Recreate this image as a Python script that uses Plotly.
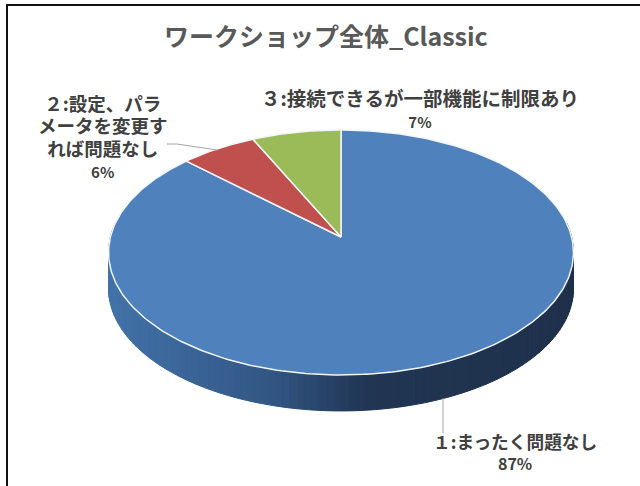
import numpy as np
import plotly.graph_objects as go

title = "ワークショップ全体_Classic"
categories = ["１:まったく問題なし", "２:設定、パラ<br>メータを変更す<br>れば問題なし", "３:接続できるが一部機能に制限あり"]
values = [87, 6, 7]
percent_labels = ["87%", "6%", "7%"]
colors = ["#4f81bd", "#c0504d", "#9bbb59"]

# Projective view of the pie disc (axes run in page pixels)
CX, CY, A, B, K, DEPTH = 341.0, 237.0, 230.6, 120.5, 0.1265, 36.0


def project(theta):
    x, y = np.sin(theta), np.cos(theta)
    d = 1 + K * y
    return CX + A * x / d, CY - B * y / d


def lerp_colour(t):
    stops = [(0.0, (66, 114, 168)), (0.35, (50, 86, 132)), (0.55, (33, 54, 84)), (1.0, (30, 48, 74))]
    for (t0, c0), (t1, c1) in zip(stops, stops[1:]):
        if t <= t1:
            f = (t - t0) / (t1 - t0)
            return "rgb(%d,%d,%d)" % tuple(round(a + (b - a) * f) for a, b in zip(c0, c1))
    return "rgb(30,48,74)"


fig = go.Figure()

# Side wall, drawn as thin vertical strips for the gradient
edges = np.linspace(np.radians(82), np.radians(278), 121)
for a0, a1 in zip(edges[:-1], edges[1:]):
    x0, y0 = project(a0)
    x1, y1 = project(a1)
    mid = (x0 + x1) / 2
    t = (mid - (CX - 232.5)) / 465.0
    c = lerp_colour(t)
    fig.add_trace(go.Scatter(
        x=[x0, x1, x1, x0, x0], y=[y0, y1, y1 + DEPTH, y0 + DEPTH, y0],
        mode="lines", fill="toself", fillcolor=c, line=dict(color=c, width=1),
        hoverinfo="skip", showlegend=False))

# Top face: one wedge per value, clockwise from twelve o'clock
total = sum(values)
start = 0.0
for name, v, col in zip(categories, values, colors):
    sweep = 2 * np.pi * v / total
    th = np.linspace(start, start + sweep, max(8, int(v * 4)))
    xs, ys = project(th)
    fig.add_trace(go.Scatter(
        x=np.r_[CX, xs, CX], y=np.r_[CY, ys, CY],
        mode="lines", fill="toself", fillcolor=col,
        line=dict(color="#f2f5f9", width=1.5), name=name,
        hoverinfo="skip", showlegend=False))
    start += sweep

# Leader lines
for lx, ly in [([443, 443], [398, 433]), ([167, 177, 217], [144, 144, 150])]:
    fig.add_trace(go.Scatter(x=lx, y=ly, mode="lines", line=dict(color="#a6a6a6", width=1),
                             hoverinfo="skip", showlegend=False))

FONT = "Noto Sans CJK JP"


def styled(text, px):
    return "<br>".join('<span style="font-size:%gpx"><b>%s</b></span>' % (px, line) for line in text.split("<br>"))


def note(text, x, y, size, color="#404040"):
    fig.add_annotation(x=x, y=y, xref="x", yref="y", text=text, showarrow=False,
                       font=dict(family=FONT, size=size, color=color), align="center")


note("<b>" + title + "</b>", 326, 35, 25, "#595959")
note(styled(categories[0], 17.7) + "<br>" + styled(percent_labels[0], 16), 515, 451.5, 16)
note(styled(categories[1], 18.5) + "<br>" + styled(percent_labels[1], 15), 103, 135.5, 17.3)
note(styled(categories[2], 19.5) + "<br>" + styled(percent_labels[2], 15), 420, 107, 17)

# Frame
fig.add_shape(type="line", x0=7, x1=7, y0=5, y1=486, xref="x", yref="y", line=dict(color="#111111", width=2))
fig.add_shape(type="line", x0=6, x1=640, y0=5, y1=5, xref="x", yref="y", line=dict(color="#111111", width=2))

fig.update_layout(
    width=640, height=486, margin=dict(l=0, r=0, t=0, b=0),
    paper_bgcolor="white", plot_bgcolor="white", showlegend=False,
    xaxis=dict(range=[0, 640], visible=False, fixedrange=True),
    yaxis=dict(range=[486, 0], visible=False, fixedrange=True),
)
fig.write_html("out.html", config={"displayModeBar": False},
               post_script="document.body.style.margin='0';document.body.style.overflow='hidden';")
